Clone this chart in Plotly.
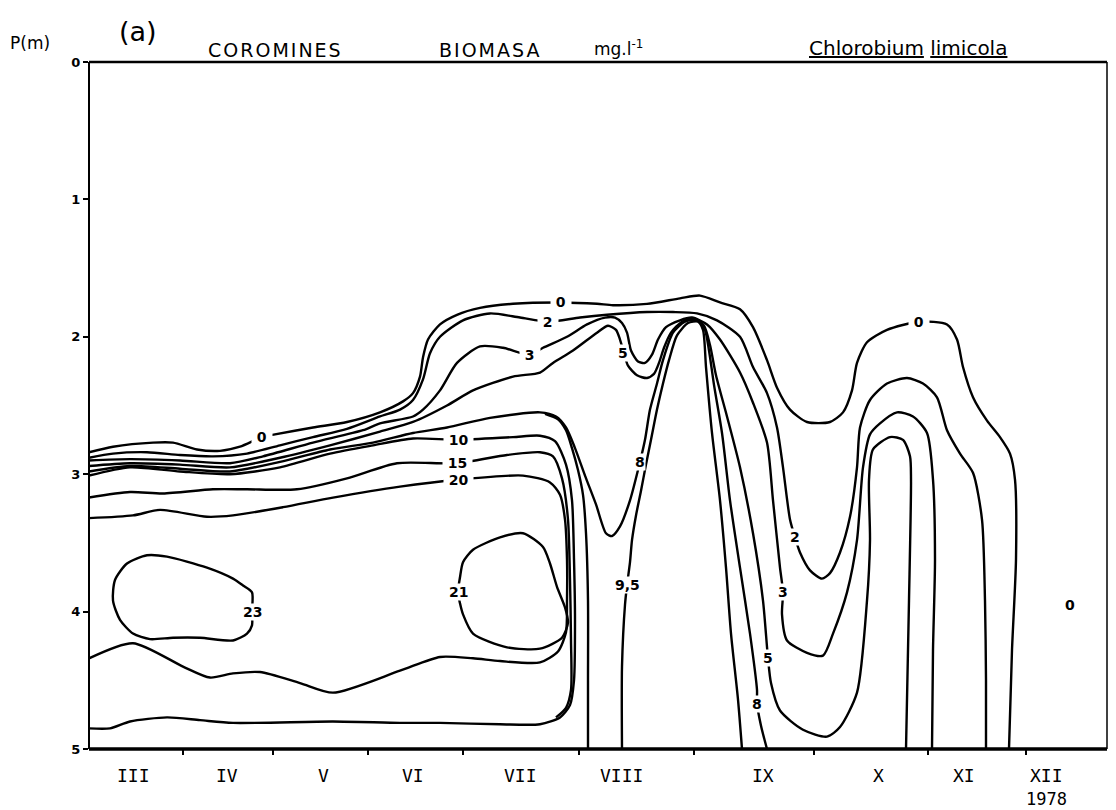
import plotly.graph_objects as go

# ---------------- axis data ----------------
# x = position along the (irregular) 1978 time axis, 0 = start of March
month_ticks = [0.94, 1.84, 2.79, 3.74, 4.90, 6.05, 7.25, 8.39, 9.37]
month_labels = ["III", "IV", "V", "VI", "VII", "VIII", "IX", "X", "XI", "XII"]
month_label_pos = [0.44, 1.38, 2.34, 3.24, 4.31, 5.32, 6.74, 7.89, 8.75, 9.57]
depth_ticks = [0, 1, 2, 3, 4, 5]

# ---------------- isolines (biomass mg/l) : x position, depth (m) ----------------
c0_x = [0.00, 0.24, 0.64, 0.84, 1.08, 1.31, 1.51, 1.73, 1.86, 2.24, 2.58, 2.91, 3.14, 3.24, 3.31, 3.34,
        3.39, 3.51, 3.68, 3.91, 4.24, 4.72, 5.08, 5.24, 5.58, 5.91, 6.11, 6.31, 6.51, 6.64, 6.78, 6.88,
        7.01, 7.18, 7.41, 7.54, 7.63, 7.68, 7.78, 7.98, 8.30, 8.58, 8.68, 8.74, 8.84, 8.98, 9.11, 9.21,
        9.26, 9.27, 9.23, 9.20]
c0_y = [2.84, 2.80, 2.77, 2.77, 2.82, 2.83, 2.80, 2.73, 2.71, 2.66, 2.62, 2.55, 2.47, 2.41, 2.29, 2.15,
        2.02, 1.91, 1.84, 1.79, 1.76, 1.75, 1.76, 1.77, 1.76, 1.72, 1.70, 1.75, 1.80, 1.93, 2.17, 2.37,
        2.53, 2.62, 2.62, 2.55, 2.39, 2.19, 2.04, 1.95, 1.89, 1.91, 2.02, 2.22, 2.44, 2.61, 2.73, 2.85,
        3.04, 3.62, 4.28, 5.00]

c2_x = [0.00, 0.24, 0.58, 0.91, 1.24, 1.58, 1.91, 2.24, 2.58, 2.91, 3.11, 3.24, 3.34, 3.41, 3.51, 3.74,
        4.01, 4.31, 4.59, 4.91, 5.18, 5.58, 5.84, 6.08, 6.28, 6.51, 6.64, 6.78, 6.88, 6.94, 7.01, 7.06,
        7.11, 7.21, 7.33, 7.41, 7.51, 7.61, 7.68, 7.71, 7.81, 7.98, 8.18, 8.34, 8.48, 8.58, 8.71, 8.84,
        8.93, 8.96, 8.97, 8.97]
c2_y = [2.88, 2.85, 2.84, 2.86, 2.87, 2.85, 2.79, 2.73, 2.67, 2.58, 2.53, 2.46, 2.31, 2.12, 2.00, 1.88,
        1.83, 1.86, 1.89, 1.86, 1.84, 1.82, 1.82, 1.83, 1.88, 2.00, 2.22, 2.41, 2.66, 2.95, 3.33, 3.46,
        3.57, 3.70, 3.76, 3.72, 3.57, 3.31, 2.95, 2.66, 2.46, 2.34, 2.30, 2.34, 2.44, 2.68, 2.85, 2.99,
        3.33, 3.92, 4.50, 5.00]

c3_x = [0.00, 0.41, 0.91, 1.41, 1.74, 2.24, 2.74, 2.91, 3.24, 3.34, 3.51, 3.68, 3.91, 4.14, 4.41, 4.54,
        4.78, 4.98, 5.16, 5.26, 5.33, 5.38, 5.42, 5.49, 5.56, 5.63, 5.69, 5.77, 5.91, 6.03, 6.18, 6.31,
        6.51, 6.64, 6.78, 6.84, 6.91, 6.94, 6.93, 6.98, 7.18, 7.34, 7.44, 7.58, 7.68, 7.74, 7.81, 7.91,
        8.08, 8.24, 8.38, 8.44, 8.46, 8.44, 8.43]
c3_y = [2.90, 2.89, 2.90, 2.92, 2.87, 2.77, 2.68, 2.63, 2.58, 2.53, 2.39, 2.19, 2.07, 2.08, 2.13, 2.08,
        2.00, 1.91, 1.86, 1.86, 1.90, 1.97, 2.10, 2.18, 2.19, 2.13, 2.02, 1.93, 1.88, 1.86, 1.91, 2.02,
        2.26, 2.48, 2.77, 3.19, 3.68, 3.86, 4.02, 4.21, 4.30, 4.32, 4.16, 3.86, 3.48, 2.95, 2.71, 2.63,
        2.55, 2.58, 2.70, 3.04, 3.62, 4.28, 5.00]

c5_x = [0.00, 0.41, 0.91, 1.41, 1.91, 2.41, 2.91, 3.24, 3.58, 3.84, 4.24, 4.51, 4.64, 4.84, 5.08, 5.19,
        5.27, 5.31, 5.35, 5.39, 5.48, 5.58, 5.65, 5.70, 5.75, 5.82, 5.93, 6.06, 6.15, 6.21, 6.27, 6.38,
        6.51, 6.64, 6.74, 6.79, 6.82, 6.91, 7.14, 7.38, 7.51, 7.68, 7.78, 7.81, 7.80, 7.84, 8.01, 8.14,
        8.21, 8.22, 8.20, 8.17]
c5_y = [2.94, 2.92, 2.93, 2.95, 2.88, 2.79, 2.69, 2.62, 2.50, 2.39, 2.29, 2.26, 2.19, 2.10, 1.97, 1.92,
        1.95, 2.02, 2.12, 2.21, 2.28, 2.30, 2.27, 2.19, 2.08, 1.97, 1.89, 1.87, 1.92, 2.06, 2.28, 2.58,
        2.95, 3.43, 3.92, 4.34, 4.52, 4.72, 4.86, 4.91, 4.84, 4.59, 3.92, 3.48, 3.04, 2.82, 2.73, 2.75,
        2.87, 3.04, 3.92, 5.00]

c8_x = [0.00, 0.41, 0.91, 1.41, 1.91, 2.41, 2.84, 3.24, 3.58, 4.01, 4.51, 4.67, 4.77, 4.86, 4.96, 5.07,
        5.17, 5.23, 5.31, 5.41, 5.51, 5.56, 5.61, 5.68, 5.74, 5.84, 5.96, 6.09, 6.16, 6.20, 6.25, 6.33,
        6.41, 6.51, 6.61, 6.68, 6.68, 6.72, 6.78]
c8_y = [2.98, 2.94, 2.96, 2.98, 2.91, 2.82, 2.77, 2.70, 2.66, 2.59, 2.55, 2.58, 2.66, 2.81, 3.01, 3.22,
        3.43, 3.45, 3.38, 3.19, 2.91, 2.75, 2.53, 2.34, 2.17, 1.97, 1.89, 1.88, 1.95, 2.10, 2.35, 2.70,
        3.19, 3.68, 4.16, 4.57, 4.67, 4.83, 5.00]

c95_x = [5.33, 5.33, 5.36, 5.38, 5.41, 5.43, 5.47, 5.52, 5.57, 5.62, 5.68, 5.74, 5.80, 5.88, 5.99, 6.09,
         6.14, 6.17, 6.23, 6.31, 6.37, 6.42, 6.49, 6.53]
c95_y = [5.00, 4.40, 3.95, 3.81, 3.64, 3.48, 3.30, 3.12, 2.93, 2.75, 2.53, 2.34, 2.17, 1.99, 1.90, 1.89,
         1.95, 2.22, 2.70, 3.19, 3.68, 4.16, 4.64, 5.00]

c95b_x = [4.56, 4.69, 4.77, 4.83, 4.89, 4.94, 4.97, 4.99, 4.99, 4.99]
c95b_y = [2.56, 2.60, 2.68, 2.81, 2.97, 3.15, 3.43, 3.92, 4.50, 5.00]

c10_x = [0.00, 0.41, 0.91, 1.41, 1.91, 2.41, 2.84, 3.24, 3.69, 4.24, 4.51, 4.66, 4.77, 4.83, 4.85, 4.86,
         4.85, 4.81, 4.71, 4.51, 4.11, 3.51, 3.11, 2.44, 1.44, 1.11, 0.78, 0.41, 0.21, 0.00]
c10_y = [3.01, 2.95, 2.98, 3.00, 2.95, 2.85, 2.79, 2.74, 2.75, 2.73, 2.72, 2.76, 2.93, 3.19, 3.62, 4.06,
         4.50, 4.68, 4.77, 4.82, 4.82, 4.81, 4.81, 4.80, 4.81, 4.79, 4.77, 4.80, 4.85, 4.85]

c15_x = [0.00, 0.41, 0.74, 1.24, 1.58, 2.08, 2.58, 3.08, 3.68, 4.18, 4.51, 4.64, 4.73, 4.79, 4.81, 4.82,
         4.82, 4.77, 4.67]
c15_y = [3.17, 3.13, 3.14, 3.11, 3.11, 3.11, 3.03, 2.92, 2.92, 2.86, 2.84, 2.87, 3.03, 3.33, 3.77, 4.21,
         4.57, 4.70, 4.77]

c20_x = [0.00, 0.44, 0.71, 1.18, 1.44, 1.94, 2.44, 3.11, 3.69, 4.34, 4.61, 4.71, 4.76, 4.78, 4.78, 4.77,
         4.69, 4.51, 4.11, 3.84, 3.51, 3.11, 2.44, 2.11, 1.71, 1.44, 1.21, 0.94, 0.44, 0.00]
c20_y = [3.32, 3.30, 3.26, 3.31, 3.30, 3.24, 3.17, 3.09, 3.04, 3.01, 3.06, 3.15, 3.33, 3.62, 3.92, 4.15,
         4.29, 4.37, 4.36, 4.34, 4.33, 4.43, 4.59, 4.52, 4.44, 4.45, 4.48, 4.40, 4.23, 4.34]

c21_x = [3.69, 3.71, 3.74, 3.84, 4.11, 4.34, 4.54, 4.61, 4.68, 4.76, 4.79, 4.73, 4.51, 4.18, 3.84, 3.74,
         3.71, 3.69]
c21_y = [3.86, 3.75, 3.64, 3.55, 3.46, 3.43, 3.53, 3.65, 3.82, 3.97, 4.08, 4.19, 4.27, 4.26, 4.16, 4.02,
         3.94, 3.86]

c23_x = [1.63, 1.63, 1.54, 1.44, 1.18, 0.78, 0.58, 0.38, 0.26, 0.24, 0.31, 0.44, 0.61, 0.84, 1.11, 1.44,
         1.58, 1.63, 1.63]
c23_y = [4.00, 3.86, 3.81, 3.76, 3.68, 3.60, 3.59, 3.65, 3.77, 3.92, 4.06, 4.16, 4.20, 4.19, 4.19, 4.21,
         4.16, 4.10, 4.00]

# contour labels
lab_text = ["0", "0", "0", "2", "2", "3", "3", "5", "5", "8", "8", "9,5", "10", "15", "20", "21", "23"]
lab_x = [1.73, 4.72, 8.30, 4.59, 7.06, 4.41, 6.94, 5.34, 6.79, 5.51, 6.68, 5.38, 3.69, 3.68, 3.69, 3.69, 1.63]
lab_y = [2.73, 1.75, 1.89, 1.89, 3.46, 2.13, 3.86, 2.12, 4.34, 2.91, 4.67, 3.81, 2.75, 2.92, 3.04, 3.86, 4.00]
lab_horizontal = [True, True, True, True, False, True, False, False, False, False, False, False,
                  True, True, True, False, False]

fig = go.Figure()

lines = [(c0_x, c0_y), (c2_x, c2_y), (c3_x, c3_y), (c5_x, c5_y), (c8_x, c8_y), (c95_x, c95_y),
         (c95b_x, c95b_y), (c10_x, c10_y), (c15_x, c15_y), (c20_x, c20_y), (c21_x, c21_y), (c23_x, c23_y)]
for xs, ys in lines:
    fig.add_trace(go.Scatter(x=xs, y=ys, mode="lines",
                             line=dict(color="black", width=2.4, shape="spline", smoothing=0.7),
                             hoverinfo="skip", showlegend=False))

for t, x, y, h in zip(lab_text, lab_x, lab_y, lab_horizontal):
    txt = ("\u00a0" + t + "\u00a0") if h else t
    fig.add_annotation(x=x, y=y, xref="x", yref="y", text="<b>" + txt + "</b>", showarrow=False,
                       font=dict(family="DejaVu Sans", size=14, color="black"),
                       bgcolor="white", borderpad=0, xanchor="center", yanchor="middle")

# free "0" label on the right
fig.add_annotation(x=9.81, y=3.95, xref="x", yref="y", text="<b>0</b>", showarrow=False,
                   font=dict(family="DejaVu Sans", size=14, color="black"))

# month labels
for m, p in zip(month_labels, month_label_pos):
    fig.add_annotation(x=p, y=-0.038, xref="x", yref="paper", text=m, showarrow=False,
                       font=dict(family="DejaVu Sans Mono", size=18, color="black"),
                       xanchor="center", yanchor="middle")
fig.add_annotation(x=9.57, y=-0.073, xref="x", yref="paper", text="1978", showarrow=False,
                   font=dict(family="DejaVu Sans Mono", size=17, color="black"),
                   xanchor="center", yanchor="middle")

# header texts
hdr = dict(xref="paper", yref="paper", showarrow=False, xanchor="center", yanchor="middle")
ls = '<span style="letter-spacing:2px">%s</span>'
fig.add_annotation(x=-0.058, y=1.028, text="P(m)", font=dict(family="DejaVu Sans", size=17, color="black"), **hdr)
fig.add_annotation(x=0.048, y=1.045, text="(a)", font=dict(family="DejaVu Sans", size=27, color="black"), **hdr)
fig.add_annotation(x=0.183, y=1.0175, text=ls % "COROMINES", font=dict(family="DejaVu Sans", size=19, color="black"), **hdr)
fig.add_annotation(x=0.394, y=1.0175, text=ls % "BIOMASA", font=dict(family="DejaVu Sans", size=19, color="black"), **hdr)
fig.add_annotation(x=0.52, y=1.02, text="mg.l<sup>-1</sup>", font=dict(family="DejaVu Sans", size=17, color="black"), **hdr)
fig.add_annotation(x=0.805, y=1.02, text="<u>Chlorobium</u> <u>limicola</u>",
                   font=dict(family="DejaVu Sans", size=20, color="black"), **hdr)

# frame
fig.add_shape(type="line", xref="paper", yref="paper", x0=0, x1=0, y0=0, y1=1, line=dict(color="black", width=2))
fig.add_shape(type="line", xref="paper", yref="paper", x0=0, x1=1, y0=0, y1=0, line=dict(color="black", width=3.5))
fig.add_shape(type="line", xref="paper", yref="paper", x0=0, x1=1, y0=1, y1=1, line=dict(color="black", width=2.5))
fig.add_shape(type="line", xref="paper", yref="paper", x0=1, x1=1, y0=0, y1=1, line=dict(color="black", width=1.5))

# the page adds an 8 px body margin; size the figure so the plot area lands where the reference has it
fig.update_layout(
    width=1108, height=802,
    margin=dict(l=81, r=9, t=54, b=61),
    paper_bgcolor="white", plot_bgcolor="white",
    showlegend=False,
    xaxis=dict(range=[0, 10.18], showgrid=False, zeroline=False, showline=False,
               tickvals=month_ticks, showticklabels=False,
               ticks="outside", ticklen=5, tickwidth=1.5, tickcolor="black"),
    yaxis=dict(range=[5, 0], showgrid=False, zeroline=False, showline=False,
               tickvals=depth_ticks, ticktext=["<b>%d</b>" % v for v in depth_ticks],
               ticks="outside", ticklen=5, tickwidth=2, tickcolor="black",
               tickfont=dict(family="DejaVu Sans", size=13, color="black")),
)

fig.write_html("out.html")
